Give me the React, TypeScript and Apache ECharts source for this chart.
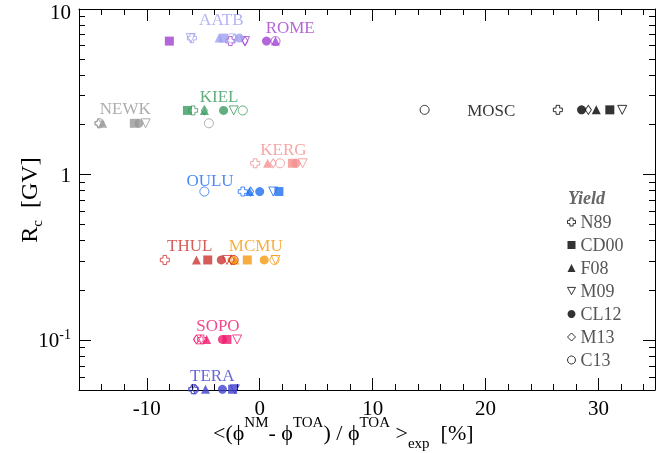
import React, { useEffect, useRef } from 'react';
import * as echarts from 'echarts';

// ---- data ----
const stations = ['AATB', 'ROME', 'NEWK', 'KIEL', 'MOSC', 'KERG', 'OULU', 'THUL', 'MCMU', 'SOPO', 'TERA'];
const cutoffRigidity = [6.67, 6.4, 2.04, 2.44, 2.46, 1.17, 0.79, 0.305, 0.305, 0.101, 0.0505];
const yieldNames = ['N89', 'CD00', 'F08', 'M09', 'CL12', 'M13', 'C13'];
// deviation <(phi_NM - phi_TOA)/phi_TOA>_exp [%], one value per station (same order as stations)
const devN89 = [-6.0, -2.6, -14.2, -5.9, 26.4, -0.4, -1.5, -8.4, -2.4, -5.1, -5.9];
const devCD00 = [-3.2, -8.0, -11.1, -6.4, 31.0, 2.9, 1.7, -4.6, -1.1, -2.9, -2.4];
const devF08 = [-3.6, 1.4, -13.9, -4.9, 29.8, 0.7, -0.9, -5.6, -2.2, -4.7, -4.8];
const devM09 = [-6.1, -1.3, -10.1, -2.3, 32.1, 3.8, 1.2, -2.9, 1.4, -2.0, -2.2];
const devCL12 = [-1.8, 0.6, -10.7, -3.2, 28.5, 3.2, 0.0, -3.4, 0.4, -3.3, -3.3];
const devM13 = [-2.2, -1.3, -14.3, -4.9, 29.1, 1.2, -0.8, -2.5, -2.3, -5.6, -5.7];
const devC13 = [-2.5, 1.4, -4.5, -1.5, 14.6, 1.8, -4.9, -2.3, 1.3, -5.4, -5.8];
const deviations = [devN89, devCD00, devF08, devM09, devCL12, devM13, devC13];
// station name annotations (data coordinates)
const labelDeviation = [-3.4, 2.7, -11.9, -3.6, 20.5, 2.1, -4.4, -6.2, -0.35, -3.7, -4.2];
const labelRigidity = [8.7, 7.78, 2.51, 2.97, 2.44, 1.42, 0.92, 0.371, 0.371, 0.123, 0.0614];
const xMajorTicks = [-10, 0, 10, 20, 30];
const yMajorTicks = [0.1, 1, 10];

// ---- styles ----
const stationColors: Record<string, string> = {
  AATB: '#a0a0f0', ROME: '#a040d0', NEWK: '#999999', KIEL: '#3a9a60', MOSC: '#000000',
  KERG: '#f59090', OULU: '#1e6ff0', THUL: '#cc3333', MCMU: '#f59a10', SOPO: '#f0196e', TERA: '#4040cc',
};
const PLUS = 'path://M3,0H7V3H10V7H7V10H3V7H0V3H3Z';
const DTRI = 'path://M0,0H10L5,9Z';
const yieldStyle: Record<string, { symbol: string; size: number | number[]; open: boolean }> = {
  N89: { symbol: PLUS, size: 9, open: true },
  CD00: { symbol: 'rect', size: 9, open: false },
  F08: { symbol: 'triangle', size: 9, open: false },
  M09: { symbol: DTRI, size: 9, open: true },
  CL12: { symbol: 'circle', size: 9, open: false },
  M13: { symbol: 'diamond', size: [6, 9], open: true },
  C13: { symbol: 'circle', size: 9, open: true },
};
const FONT = 'Liberation Serif';

const yMinorTicks: number[] = [];
for (const base of [0.01, 0.1, 1]) {
  for (let k = 2; k <= 9; k++) {
    const v = +(k * base).toFixed(3);
    if (v >= 0.05 && v <= 10) yMinorTicks.push(v);
  }
}

export default function App() {
  const ref = useRef<HTMLDivElement>(null);
  useEffect(() => {
    const chart = echarts.init(ref.current!, null, { renderer: 'svg' });
    const line = { color: '#000', width: 1 };
    const xBase = { type: 'value', min: -16, max: 35, splitLine: { show: false } };
    const yBase = { type: 'log', logBase: 10, min: 0.05, max: 10, splitLine: { show: false } };

    const scatterSeries = yieldNames.map((name, k) => {
      const st = yieldStyle[name];
      return {
        type: 'scatter',
        name,
        symbol: st.symbol,
        symbolSize: st.size,
        xAxisIndex: 0,
        yAxisIndex: 0,
        itemStyle: st.open
          ? { color: 'rgba(255,255,255,0)', borderColor: '#000', borderWidth: 1 }
          : { color: '#000', borderWidth: 0 },
        data: stations.map((s, i) => ({
          value: [deviations[k][i], cutoffRigidity[i]],
          itemStyle: st.open ? { borderColor: stationColors[s] } : { color: stationColors[s] },
        })),
      };
    });

    const labelSeries = {
      type: 'scatter',
      name: 'stations',
      symbolSize: 1,
      silent: true,
      itemStyle: { color: 'rgba(0,0,0,0)' },
      data: stations.map((s, i) => ({
        value: [labelDeviation[i], labelRigidity[i]],
        label: {
          show: true,
          position: 'inside',
          formatter: s,
          color: stationColors[s],
          fontSize: 17,
          fontFamily: FONT,
        },
      })),
    };

    chart.setOption({
      animation: false,
      grid: { left: 79, right: 2, top: 9, bottom: 63, containLabel: false, outerBoundsMode: 'none' },
      title: {
        text: 'Yield',
        left: 563,
        top: 184,
        textStyle: { fontFamily: FONT, fontSize: 18, fontStyle: 'italic', fontWeight: 'bold', color: '#666' },
      },
      legend: {
        data: yieldNames,
        orient: 'vertical',
        left: 562,
        top: 208,
        itemWidth: 8,
        itemHeight: 8,
        itemGap: 5,
        itemStyle: { borderWidth: 1 },
        textStyle: { fontFamily: FONT, fontSize: 18, color: '#555', lineHeight: 18 },
        selectedMode: false,
      },
      xAxis: [
        {
          ...xBase, position: 'bottom',
          axisLine: { show: true, onZero: false, lineStyle: line },
          axisTick: { show: true, inside: true, length: 12, customValues: xMajorTicks, lineStyle: line },
          axisLabel: { show: true, customValues: xMajorTicks, fontFamily: FONT, fontSize: 21, color: '#000', margin: 7 },
        },
        {
          ...xBase, position: 'bottom', interval: 2,
          axisLine: { show: false, onZero: false },
          axisTick: { show: true, inside: true, length: 6, lineStyle: line },
          axisLabel: { show: false },
        },
        {
          ...xBase, position: 'top',
          axisLine: { show: true, onZero: false, lineStyle: line },
          axisTick: { show: true, inside: true, length: 12, customValues: xMajorTicks, lineStyle: line },
          axisLabel: { show: false },
        },
        {
          ...xBase, position: 'top', interval: 2,
          axisLine: { show: false, onZero: false },
          axisTick: { show: true, inside: true, length: 6, lineStyle: line },
          axisLabel: { show: false },
        },
      ],
      yAxis: [
        {
          ...yBase, position: 'left',
          axisLine: { show: true, onZero: false, lineStyle: line },
          axisTick: { show: true, inside: true, length: 12, customValues: yMajorTicks, lineStyle: line },
          axisLabel: {
            show: true,
            customValues: yMajorTicks,
            margin: 8,
            fontFamily: FONT,
            fontSize: 21,
            color: '#000',
            formatter: (v: number) => (v > 5 ? '{t|10}' : v > 0.5 ? '{b|1}' : '{b|10}{s|-1}'),
            rich: {
              t: { fontFamily: FONT, fontSize: 21, color: '#000', padding: [6, 0, 0, 0] },
              b: { fontFamily: FONT, fontSize: 21, lineHeight: 26, color: '#000' },
              s: { fontFamily: FONT, fontSize: 14, lineHeight: 14, verticalAlign: 'top', color: '#000' },
            },
          },
        },
        {
          ...yBase, position: 'left',
          axisLine: { show: false, onZero: false },
          axisTick: { show: true, inside: true, length: 6, customValues: yMinorTicks, lineStyle: line },
          axisLabel: { show: false },
        },
        {
          ...yBase, position: 'right',
          axisLine: { show: true, onZero: false, lineStyle: line },
          axisTick: { show: true, inside: true, length: 12, customValues: yMajorTicks, lineStyle: line },
          axisLabel: { show: false },
        },
        {
          ...yBase, position: 'right',
          axisLine: { show: false, onZero: false },
          axisTick: { show: true, inside: true, length: 6, customValues: yMinorTicks, lineStyle: line },
          axisLabel: { show: false },
        },
      ],
      graphic: [
        {
          type: 'text',
          left: 213,
          top: 414,
          style: {
            text: '{a|<(ϕ}{sup|NM}{a|- ϕ}{sup|TOA}{a|) / ϕ}{sup|TOA}{a| >}{sub|exp}{a|  [%]}',
            rich: {
              a: { fontFamily: FONT, fontSize: 22, lineHeight: 36, fill: '#000' },
              sup: { fontFamily: FONT, fontSize: 15, lineHeight: 16, verticalAlign: 'top', fill: '#000' },
              sub: { fontFamily: FONT, fontSize: 15, lineHeight: 16, verticalAlign: 'bottom', fill: '#000' },
            },
          },
        },
        {
          type: 'text',
          x: 29,
          y: 200,
          rotation: Math.PI / 2,
          style: {
            text: '{r|R}{c|c}{r|  [GV]}',
            align: 'center',
            verticalAlign: 'middle',
            rich: {
              r: { fontFamily: FONT, fontSize: 24, lineHeight: 30, fill: '#000' },
              c: { fontFamily: FONT, fontSize: 15, lineHeight: 16, verticalAlign: 'bottom', fill: '#000' },
            },
          },
        },
      ],
      series: [...scatterSeries, labelSeries],
    });
    return () => chart.dispose();
  }, []);
  return <div ref={ref} style={{ position: 'fixed', left: 0, top: 0, width: 657, height: 453 }} />;
}
